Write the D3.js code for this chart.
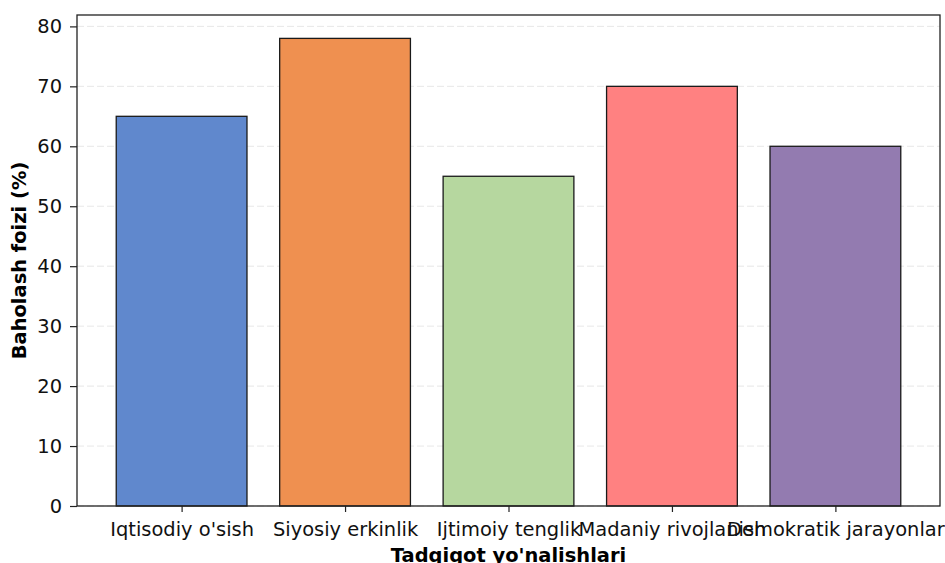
<!DOCTYPE html>
<html><head><meta charset="utf-8">
<script src="https://cdn.jsdelivr.net/npm/d3@7"></script>
<style>body{margin:0;background:#fff}svg{display:block}text{font-family:"DejaVu Sans",sans-serif}</style>
</head><body>
<svg id="c" width="945" height="563"></svg>
<script>
const categories = ["Iqtisodiy o'sish","Siyosiy erkinlik","Ijtimoiy tenglik","Madaniy rivojlanish","Demokratik jarayonlar"];
const values = [65, 78, 55, 70, 60];
const colors = ["#6088cd","#ef9050","#b6d79f","#ff8181","#937bb0"];
const yTicks = [0,10,20,30,40,50,60,70,80];
const xTitle = "Tadqiqot yo'nalishlari";
const yTitle = "Baholash foizi (%)";

const FS = 19.44;
const svg = d3.select("#c");
const L=77, R=940, T=15, B=506;
const x = d3.scaleLinear().domain([-0.64, 4.64]).range([L, R]);
const y = d3.scaleLinear().domain([0, 81.9]).range([B, T]);

// grid
svg.append("g").selectAll("line").data(yTicks).join("line")
  .attr("x1",L).attr("x2",R).attr("y1",d=>y(d)).attr("y2",d=>y(d))
  .attr("stroke","#b0b0b0").attr("stroke-opacity",0.3).attr("stroke-width",1)
  .attr("stroke-dasharray","7,3");

// bars
svg.append("g").selectAll("rect").data(values).join("rect")
  .attr("x",(d,i)=>x(i-0.4)).attr("width",(d,i)=>x(i+0.4)-x(i-0.4))
  .attr("y",d=>y(d)).attr("height",d=>B-y(d))
  .attr("fill",(d,i)=>colors[i]).attr("stroke","#1a1a1a").attr("stroke-width",1.3);

// axes
const yAxis = d3.axisLeft(y).tickValues(yTicks).tickSize(7).tickPadding(8);
const gy = svg.append("g").attr("transform",`translate(${L},0)`).call(yAxis);
const xAxis = d3.axisBottom(x).tickValues(d3.range(categories.length)).tickFormat(i=>categories[i]).tickSize(6).tickPadding(10);
const gx = svg.append("g").attr("transform",`translate(0,${B})`).call(xAxis);
[gx,gy].forEach(g=>{
  g.select(".domain").remove();
  g.selectAll("line").attr("stroke","#222").attr("stroke-width",1.2);
  g.selectAll("text").attr("font-size",FS).attr("fill","#111").style("font-family","DejaVu Sans");
});
// frame
svg.append("rect").attr("x",L).attr("y",T).attr("width",R-L).attr("height",B-T)
  .attr("fill","none").attr("stroke","#222").attr("stroke-width",1.3);

svg.append("text").attr("x",(L+R)/2).attr("y",562).attr("text-anchor","middle")
  .attr("font-size",FS).attr("font-weight","bold").attr("fill","#000").text(xTitle);
svg.append("text").attr("transform",`translate(25.5,${(T+B)/2}) rotate(-90)`).attr("text-anchor","middle")
  .attr("font-size",FS).attr("font-weight","bold").attr("fill","#000").text(yTitle);
</script>
</body></html>
